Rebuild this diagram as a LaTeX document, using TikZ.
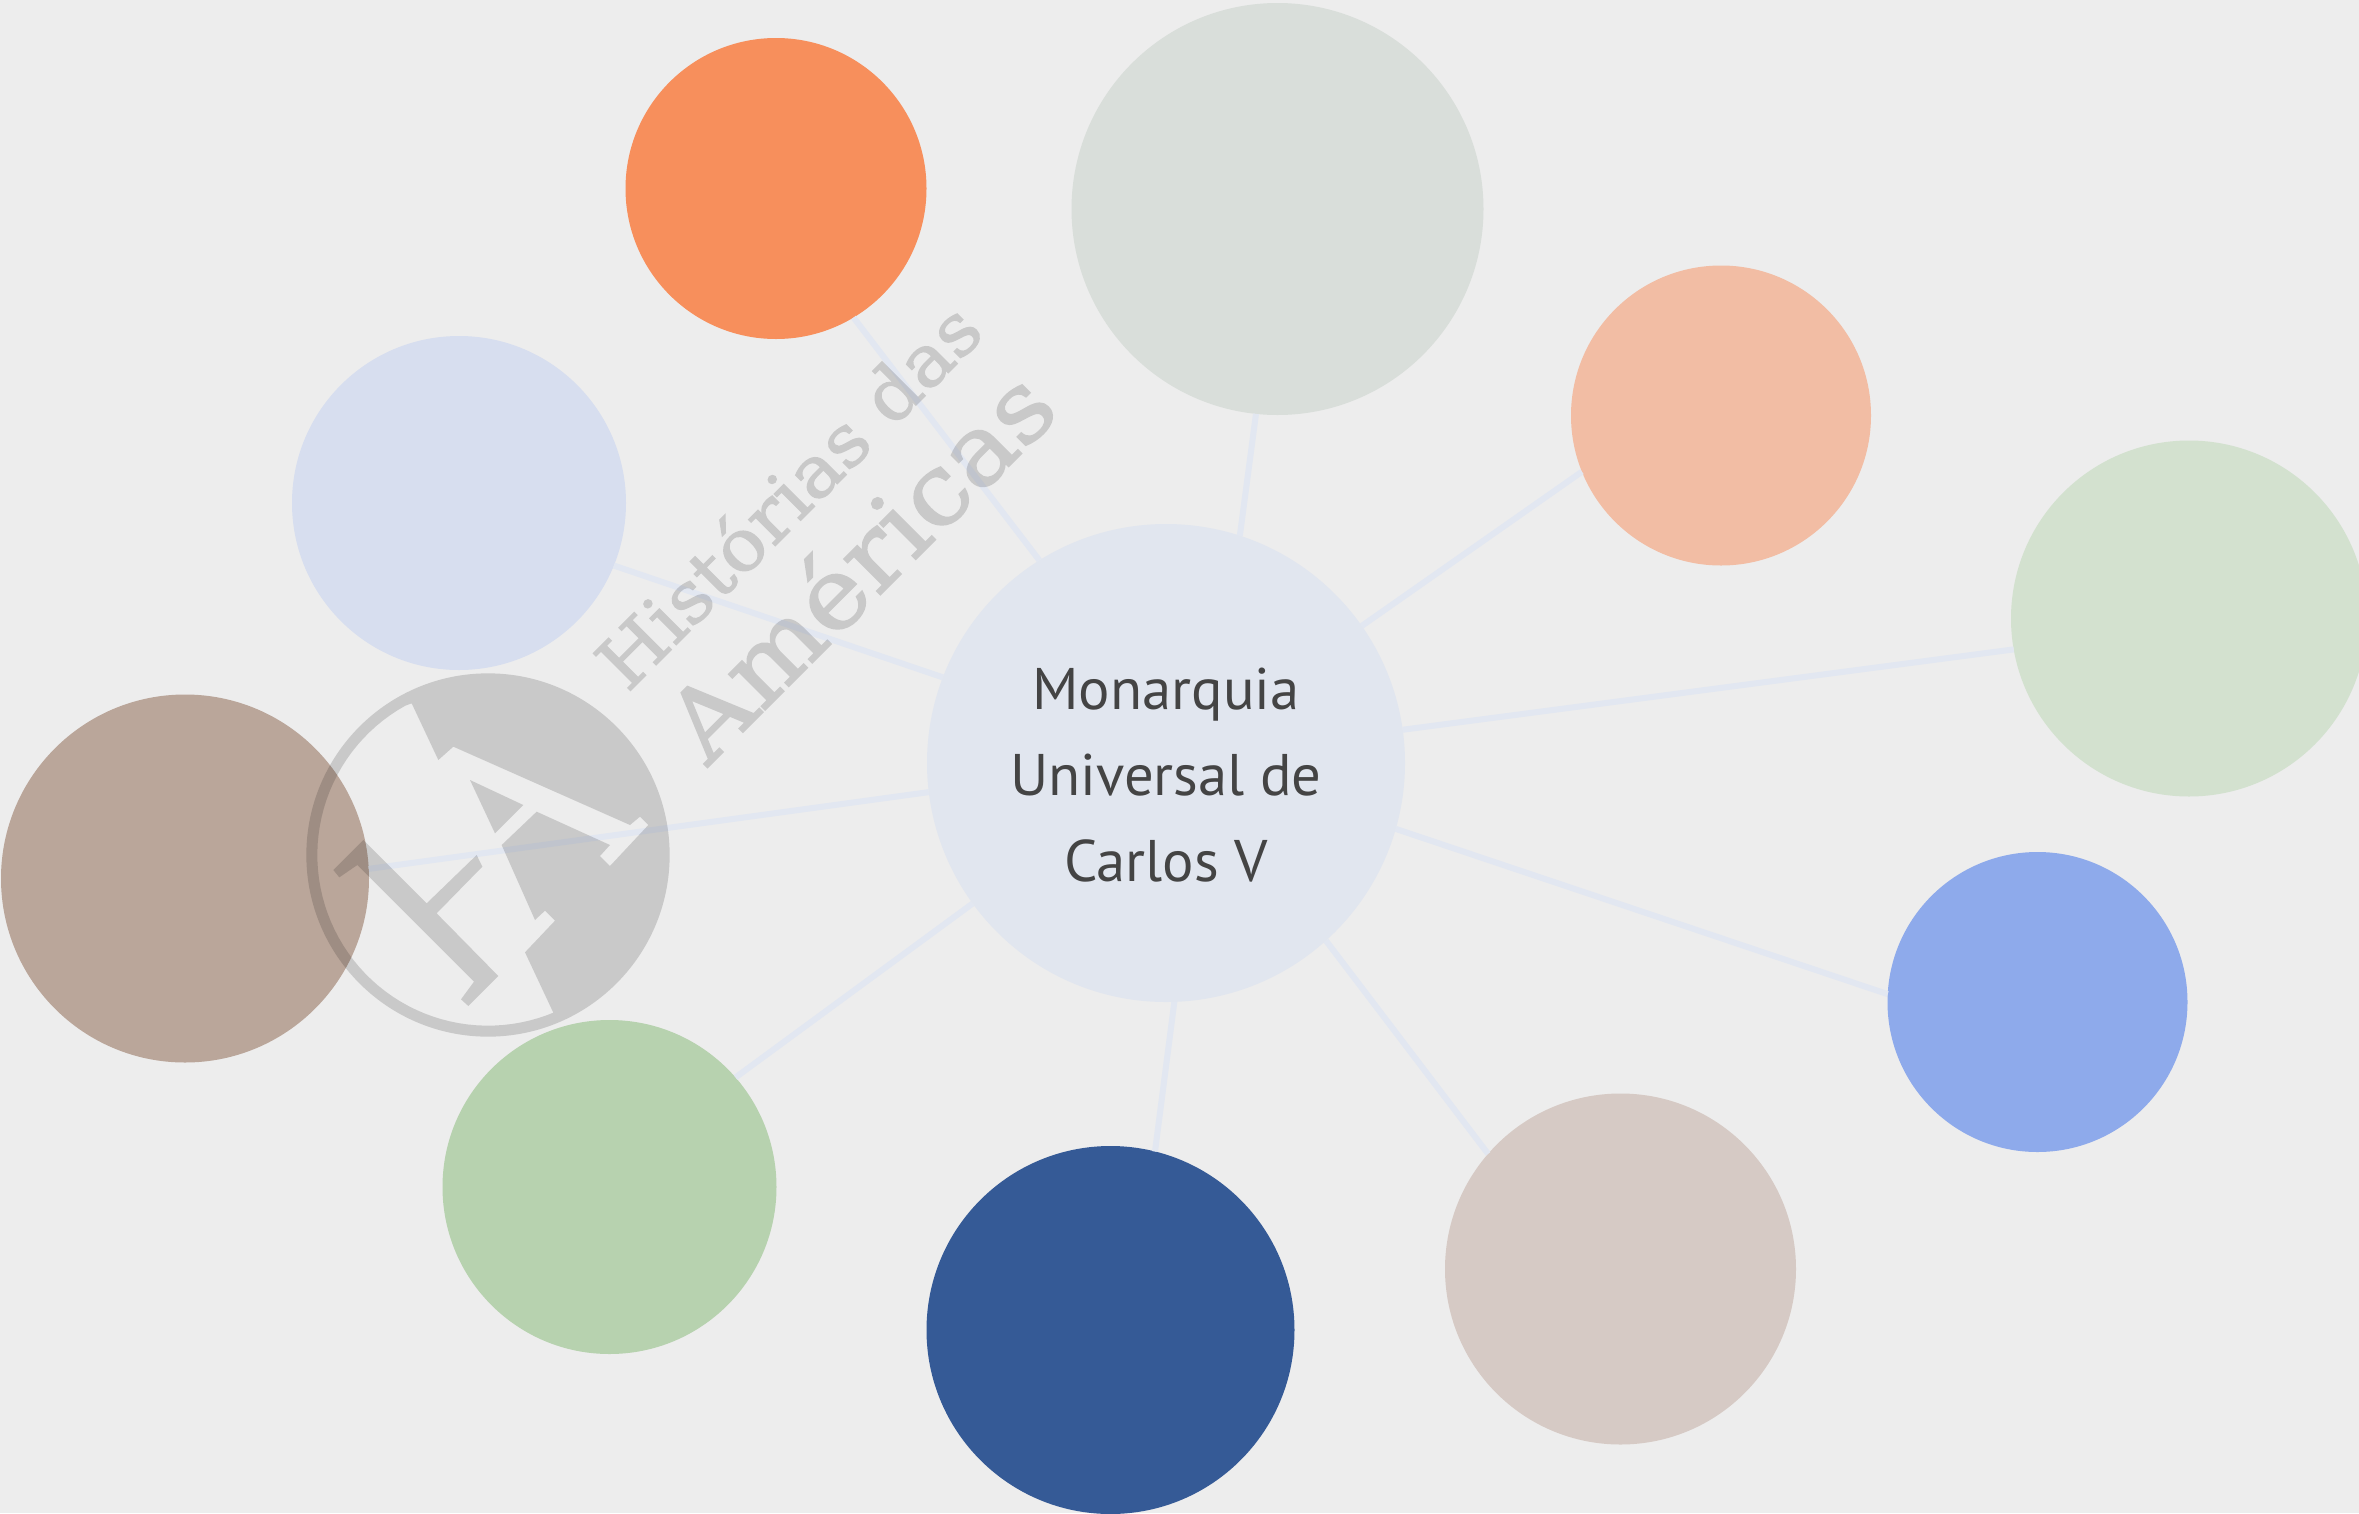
\documentclass[tikz,border=0pt]{standalone}
\usepackage{fontspec}
\setmainfont{PT Sans}
\newfontfamily\slabfont[FakeBold=1.6]{DejaVu Serif}
\definecolor{bgc}{HTML}{EDEDED}
\definecolor{linkc}{HTML}{E2E7F1}
\definecolor{hubc}{HTML}{E1E6EF}
\definecolor{txtc}{HTML}{444444}
\definecolor{orangec}{HTML}{F78F5C}
\definecolor{grayc}{HTML}{D9DEDA}
\definecolor{peachc}{HTML}{F2BDA4}
\definecolor{lgreenc}{HTML}{D3E1CF}
\definecolor{blue2c}{HTML}{8EAAEB}
\definecolor{taupec}{HTML}{D6CAC5}
\definecolor{dbluec}{HTML}{355A96}
\definecolor{greenc}{HTML}{B7D2AF}
\definecolor{brownc}{HTML}{BAA69A}
\definecolor{lavc}{HTML}{D7DEEF}
\tikzset{
  ball/.style={circle,inner sep=0pt,outer sep=0pt,minimum size=#1},
  link/.style={draw=linkc,line width=6pt},
  mark text/.style={text=black,anchor=base,rotate=45,inner sep=0pt}
}
\begin{document}
\begin{tikzpicture}[x=1pt,y=-1pt]
\useasboundingbox (0,0) rectangle (2359,1513);
\fill[bgc] (0,0) rectangle (2359,1513);
\node[ball=478pt,fill=hubc] (hub) at (1166,763) {};
\node[text=txtc,align=center,inner sep=0pt,font=\fontsize{58.7}{86}\selectfont] (hubtext) at (1166,775) {Monarquia\\Universal de\\Carlos V};
\node[ball=301pt,fill=orangec] (orange) at (776,188.5) {};
\node[ball=412pt,fill=grayc] (gray) at (1277.5,209) {};
\node[ball=300pt,fill=peachc] (peach) at (1721,415.5) {};
\node[ball=356pt,fill=lgreenc] (lgreen) at (2189,618.5) {};
\node[ball=300pt,fill=blue2c] (bluen) at (2037.5,1002) {};
\node[ball=351pt,fill=taupec] (taupe) at (1620.5,1269) {};
\node[ball=368pt,fill=dbluec] (dblue) at (1110.5,1330) {};
\node[ball=334pt,fill=greenc] (green) at (609.5,1187) {};
\node[ball=368pt,fill=brownc] (brown) at (185,878.5) {};
\node[ball=334pt,fill=lavc] (lav) at (459,503) {};
\draw[link] (hub.122.4) -- (orange.-59.4);
\draw[link] (hub.-48.5) -- (taupe.139.6);
\draw[link] (hub.72.8) -- (gray.-96);
\draw[link] (hub.-88.6) -- (dblue.76.5);
\draw[link] (hub.35) -- (peach.202);
\draw[link] (hub.216.8) -- (green.41.4);
\draw[link] (hub.8) -- (lgreen.190.3);
\draw[link] (hub.187) -- (brown.3.4);
\draw[link] (hub.-16) -- (bluen.177.4);
\draw[link] (hub.159.3) -- (lav.-22);
% watermark
\begin{scope}[xshift=280pt,yshift=-640pt,x=.33333pt,y=-.33333pt]
  \fill[black,fill opacity=.15,even odd rule]
    (624,645) circle [radius=545]
    (395,190) -- (475,360) -- (520,320) -- (1050,555) -- (1080,530) -- (1105,555) -- (990,678) -- (960,648) -- (990,615) -- (770,515) -- (665,615) -- (765,840) -- (795,812) -- (825,842) -- (735,937) -- (820,1118)
    \foreach \t in {70,73,...,241} { -- ({624+512*cos(\t)},{645+512*sin(\t)}) } -- cycle
    (570,420) -- (730,495) -- (645,580) -- cycle
    (160,690) -- (250,600) -- (440,790) -- (590,645) -- (607,680) -- (470,820) -- (655,1008) -- (565,1098) -- (543,1078) -- (582,1025) -- (232,675) -- (178,712) -- cycle;
\end{scope}
\begin{scope}[transparency group,opacity=.15]
\node[mark text] (hist) at (807,514) {\scalebox{1.055}[1]{\slabfont\fontsize{72}{72}\selectfont Histórias das}};
\node[mark text] (amer) at (885,590) {\scalebox{1.08}[1]{\slabfont\fontsize{98}{98}\selectfont Américas}};
\end{scope}
\end{tikzpicture}
\end{document}
